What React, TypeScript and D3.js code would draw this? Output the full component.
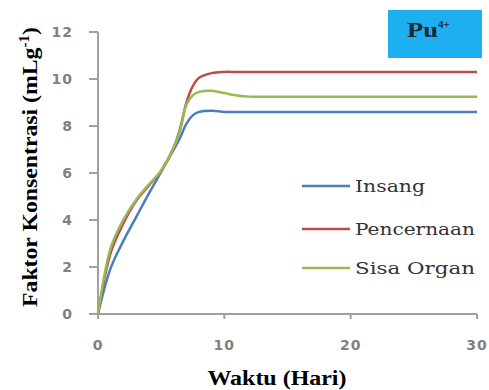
import React from "react";
import * as d3 from "d3";

const days = [0, 1, 2, 3, 4, 5, 6, 6.5, 7, 7.5, 8, 9, 10, 11, 12, 15, 20, 25, 30];
const insang = [0, 1.95, 3.1, 4.1, 5.1, 6.05, 7.0, 7.5, 8.1, 8.45, 8.6, 8.65, 8.6, 8.6, 8.6, 8.6, 8.6, 8.6, 8.6];
const pencernaan = [0, 2.6, 3.85, 4.8, 5.45, 6.1, 7.1, 7.9, 9.0, 9.7, 10.05, 10.25, 10.3, 10.3, 10.3, 10.3, 10.3, 10.3, 10.3];
const sisaOrgan = [0, 2.8, 4.0, 4.85, 5.5, 6.1, 7.1, 7.8, 8.9, 9.3, 9.45, 9.5, 9.4, 9.3, 9.25, 9.25, 9.25, 9.25, 9.25];

const seriesNames = ["Insang", "Pencernaan", "Sisa Organ"];
const seriesColors = ["#4a7ebb", "#be4b48", "#98b954"];
const seriesValues = [insang, pencernaan, sisaOrgan];
const xTicks = [0, 10, 20, 30];
const yTicks = [0, 2, 4, 6, 8, 10, 12];

export default function App() {
  const W = 489, H = 390;
  const x = d3.scaleLinear().domain([0, 30]).range([98, 477]);
  const y = d3.scaleLinear().domain([0, 12]).range([314, 32]);
  const line = d3
    .line<[number, number]>()
    .x((d) => x(d[0]))
    .y((d) => y(d[1]))
    .curve(d3.curveCatmullRom.alpha(0.5));

  const axisColor = "#a0a0a0";
  const tickFont = { fontFamily: "DejaVu Sans", fontWeight: 700, fontSize: 14, fill: "#808080" } as const;
  const legendY = [186, 229, 268];

  return (
    <svg width={W} height={H} style={{ position: "absolute", left: 0, top: 0 }}>
      <rect width={W} height={H} fill="#fff" />
      {/* axes */}
      <line x1={x(0)} x2={x(0)} y1={y(12)} y2={y(0) + 3} stroke={axisColor} strokeWidth={2} />
      <line x1={x(0)} x2={x(30)} y1={y(0)} y2={y(0)} stroke={axisColor} strokeWidth={2} />
      {yTicks.map((t) => (
        <g key={"y" + t}>
          <line x1={x(0) - 9} x2={x(0)} y1={y(t)} y2={y(t)} stroke={axisColor} strokeWidth={2} />
          <text x={73} y={y(t) + 5} textAnchor="end" letterSpacing={1} {...tickFont}>
            {t}
          </text>
        </g>
      ))}
      {xTicks.map((t) => (
        <g key={"x" + t}>
          <line x1={x(t)} x2={x(t)} y1={y(0)} y2={y(0) + 5} stroke={axisColor} strokeWidth={2} />
          <text x={x(t)} y={350} textAnchor="middle" letterSpacing={1} {...tickFont}>
            {t}
          </text>
        </g>
      ))}
      {/* series */}
      {seriesValues.map((vals, i) => (
        <path
          key={seriesNames[i]}
          d={line(days.map((d, j) => [d, vals[j]] as [number, number])) || ""}
          fill="none"
          stroke={seriesColors[i]}
          strokeWidth={2.5}
        />
      ))}
      {/* axis titles */}
      <text
        x={277}
        y={385}
        textAnchor="middle"
        fontFamily="Liberation Serif"
        fontWeight={700}
        fontSize={20}
        textLength={139}
        lengthAdjust="spacingAndGlyphs"
        fill="#000"
      >
        Waktu (Hari)
      </text>
      <text
        transform="translate(37,167) rotate(-90)"
        textAnchor="middle"
        fontFamily="Liberation Serif"
        fontWeight={700}
        fontSize={22}
        fill="#000"
        textLength={280}
        lengthAdjust="spacingAndGlyphs"
      >
        Faktor Konsentrasi (mLg
        <tspan dy={-8} fontSize={14}>-1</tspan>
        <tspan dy={8}>)</tspan>
      </text>
      {/* Pu box */}
      <rect x={388} y={10} width={94} height={48} fill="#1eaff0" />
      <text x={407} y={37} fontFamily="Liberation Serif" fontWeight={700} fontSize={21} fill="#1a2a30">
        <tspan textLength={31} lengthAdjust="spacingAndGlyphs">Pu</tspan>
        <tspan dy={-9} fontSize={11}>4+</tspan>
      </text>
      {/* legend */}
      {seriesNames.map((n, i) => (
        <g key={"lg" + n}>
          <line x1={302} x2={350} y1={legendY[i]} y2={legendY[i]} stroke={seriesColors[i]} strokeWidth={2.5} />
          <text
            x={355}
            y={legendY[i] + 6}
            fontFamily="DejaVu Serif"
            fontSize={17}
            fill="#333"
            textLength={[70, 120, 120][i]}
            lengthAdjust="spacingAndGlyphs"
          >
            {n}
          </text>
        </g>
      ))}
    </svg>
  );
}
